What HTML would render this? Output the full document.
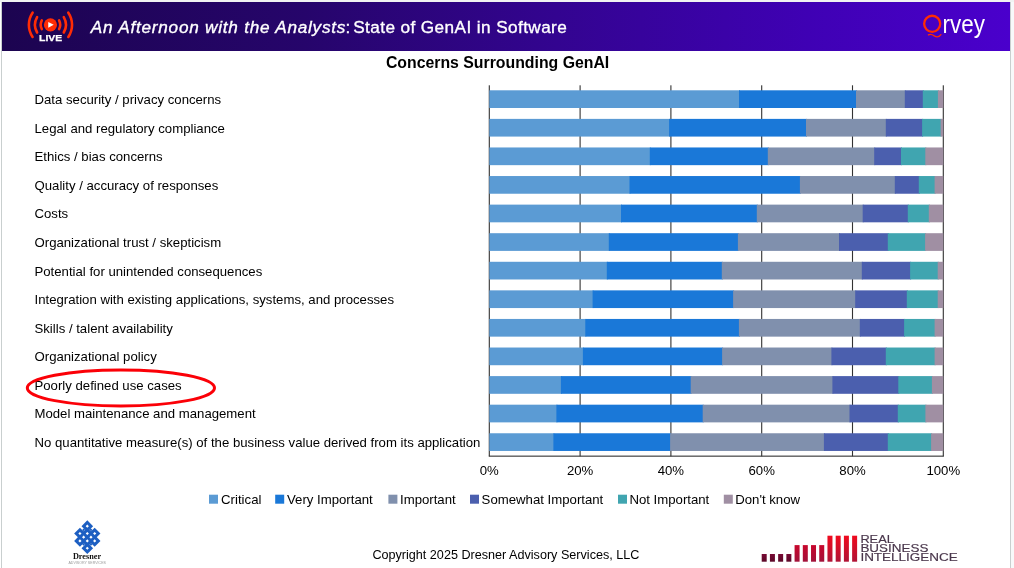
<!DOCTYPE html>
<html lang="en">
<head>
<meta charset="utf-8">
<title>Concerns Surrounding GenAI</title>
<style>
html,body{margin:0;padding:0;background:#fff;}
body{width:1014px;height:568px;overflow:hidden;position:relative;font-family:'Liberation Sans',Arial,sans-serif;}
svg{position:absolute;left:0;top:0;display:block;}
text{font-family:'Liberation Sans',Arial,sans-serif;}
</style>
</head>
<body>
<svg width="1014" height="568" viewBox="0 0 1014 568">
<defs>
<linearGradient id="hdr" x1="0" y1="0" x2="1" y2="0">
<stop offset="0" stop-color="#1c0450"/>
<stop offset="0.3" stop-color="#26056b"/>
<stop offset="0.55" stop-color="#330490"/>
<stop offset="0.8" stop-color="#3f01b4"/>
<stop offset="1" stop-color="#4a00cc"/>
</linearGradient>
<linearGradient id="rbT" x1="0" y1="0" x2="0" y2="1">
<stop offset="0" stop-color="#f00a1e"/>
<stop offset="1" stop-color="#b01436"/>
</linearGradient>
<linearGradient id="rbM" x1="0" y1="0" x2="0" y2="1">
<stop offset="0" stop-color="#c8062c"/>
<stop offset="1" stop-color="#a2123a"/>
</linearGradient>
<linearGradient id="rbS" x1="0" y1="0" x2="0" y2="1">
<stop offset="0" stop-color="#780a34"/>
<stop offset="1" stop-color="#5c0828"/>
</linearGradient>
</defs>

<rect x="0" y="0" width="1014" height="568" fill="#ffffff"/>
<rect x="1011" y="0" width="3" height="568" fill="#f8f9fa"/>
<rect x="0" y="0" width="1014" height="2" fill="#f1f3f2"/>
<rect x="1" y="2" width="1" height="566" fill="#c9cfcf"/>
<rect x="1010" y="2" width="1" height="566" fill="#c9cfcf"/>
<rect x="2" y="2" width="1008" height="49" fill="url(#hdr)"/>
<path d="M41.81 20.40A9.7 9.7 0 0 0 41.81 29.20M59.09 20.40A9.7 9.7 0 0 1 59.09 29.20M37.11 17.10A15.4 15.4 0 0 0 37.11 32.50M63.79 17.10A15.4 15.4 0 0 1 63.79 32.50M32.59 12.66A21.6 21.6 0 0 0 32.59 36.94M68.31 12.66A21.6 21.6 0 0 1 68.31 36.94" fill="none" stroke="#ff2c05" stroke-width="2.6" stroke-linecap="round"/>
<circle cx="50.45" cy="24.8" r="6.6" fill="#ff2c05"/>
<path d="M48.25 21.900000000000002L53.75 24.8L48.25 27.7Z" fill="#ffffff"/>
<text x="50.650000000000006" y="41.25" font-size="9.7" font-weight="700" fill="#ffffff" stroke="#ffffff" stroke-width="0.25" text-anchor="middle" textLength="23.2" lengthAdjust="spacingAndGlyphs">LIVE</text>
<text x="90.8" y="32.9" font-size="17.2" font-style="italic" fill="#ffffff" stroke="#ffffff" stroke-width="0.35" textLength="254.6" lengthAdjust="spacing">An Afternoon with the Analysts</text>
<text x="345.6" y="32.9" font-size="17.2" fill="#ffffff" stroke="#ffffff" stroke-width="0.35">:</text>
<text x="353.2" y="32.9" font-size="17.2" fill="#ffffff" stroke="#ffffff" stroke-width="0.35" textLength="213.6" lengthAdjust="spacing">State of GenAI in Software</text>
<circle cx="932.2" cy="23.8" r="8.05" fill="none" stroke="#ff2c05" stroke-width="2.3"/>
<path d="M928.4 34.9C930.5 33.6 932.5 34.6 934.3 35.9C936.4 37.3 939.2 36.9 940.9 34.6" fill="none" stroke="#ff2c05" stroke-width="1.3" stroke-linecap="round"/>
<text x="942.6" y="32.85" font-size="26" fill="#ffffff" textLength="42.4" lengthAdjust="spacingAndGlyphs">rvey</text>
<text x="497.6" y="68" font-size="15.83" font-weight="700" fill="#000000" text-anchor="middle">Concerns Surrounding GenAI</text>
<rect x="488.75" y="85.3" width="1.1" height="371" fill="#333333"/>
<rect x="579.55" y="85.3" width="1.1" height="371" fill="#333333"/>
<rect x="670.35" y="85.3" width="1.1" height="371" fill="#333333"/>
<rect x="761.15" y="85.3" width="1.1" height="371" fill="#333333"/>
<rect x="851.95" y="85.3" width="1.1" height="371" fill="#333333"/>
<rect x="942.75" y="85.3" width="1.1" height="371" fill="#333333"/>
<rect x="488.80" y="455.6" width="455.00" height="1.1" fill="#333333"/>
<rect x="489.3" y="90.30" width="250.7" height="17.7" fill="#5b9bd4"/>
<rect x="739.0" y="90.30" width="118.0" height="17.7" fill="#1a78d8"/>
<rect x="856.0" y="90.30" width="49.8" height="17.7" fill="#8090ad"/>
<rect x="904.8" y="90.30" width="19.0" height="17.7" fill="#4b5fae"/>
<rect x="922.8" y="90.30" width="16.1" height="17.7" fill="#40a5b0"/>
<rect x="937.9" y="90.30" width="5.4" height="17.7" fill="#a08fa3"/>
<text x="34.5" y="104.10" font-size="13.18" fill="#000000">Data security / privacy concerns</text>
<rect x="489.3" y="118.88" width="180.8" height="17.7" fill="#5b9bd4"/>
<rect x="669.1" y="118.88" width="137.9" height="17.7" fill="#1a78d8"/>
<rect x="806.0" y="118.88" width="80.8" height="17.7" fill="#8090ad"/>
<rect x="885.8" y="118.88" width="37.3" height="17.7" fill="#4b5fae"/>
<rect x="922.1" y="118.88" width="19.5" height="17.7" fill="#40a5b0"/>
<rect x="940.6" y="118.88" width="2.7" height="17.7" fill="#a08fa3"/>
<text x="34.5" y="132.68" font-size="13.18" fill="#000000">Legal and regulatory compliance</text>
<rect x="489.3" y="147.46" width="161.5" height="17.7" fill="#5b9bd4"/>
<rect x="649.8" y="147.46" width="119.0" height="17.7" fill="#1a78d8"/>
<rect x="767.8" y="147.46" width="107.4" height="17.7" fill="#8090ad"/>
<rect x="874.2" y="147.46" width="27.8" height="17.7" fill="#4b5fae"/>
<rect x="901.0" y="147.46" width="25.3" height="17.7" fill="#40a5b0"/>
<rect x="925.3" y="147.46" width="18.0" height="17.7" fill="#a08fa3"/>
<text x="34.5" y="161.26" font-size="13.18" fill="#000000">Ethics / bias concerns</text>
<rect x="489.3" y="176.04" width="141.2" height="17.7" fill="#5b9bd4"/>
<rect x="629.5" y="176.04" width="171.4" height="17.7" fill="#1a78d8"/>
<rect x="799.9" y="176.04" width="95.9" height="17.7" fill="#8090ad"/>
<rect x="894.8" y="176.04" width="25.0" height="17.7" fill="#4b5fae"/>
<rect x="918.8" y="176.04" width="16.8" height="17.7" fill="#40a5b0"/>
<rect x="934.6" y="176.04" width="8.7" height="17.7" fill="#a08fa3"/>
<text x="34.5" y="189.84" font-size="13.18" fill="#000000">Quality / accuracy of responses</text>
<rect x="489.3" y="204.62" width="132.7" height="17.7" fill="#5b9bd4"/>
<rect x="621.0" y="204.62" width="136.8" height="17.7" fill="#1a78d8"/>
<rect x="756.8" y="204.62" width="106.9" height="17.7" fill="#8090ad"/>
<rect x="862.7" y="204.62" width="46.1" height="17.7" fill="#4b5fae"/>
<rect x="907.8" y="204.62" width="22.0" height="17.7" fill="#40a5b0"/>
<rect x="928.8" y="204.62" width="14.5" height="17.7" fill="#a08fa3"/>
<text x="34.5" y="218.42" font-size="13.18" fill="#000000">Costs</text>
<rect x="489.3" y="233.20" width="120.5" height="17.7" fill="#5b9bd4"/>
<rect x="608.8" y="233.20" width="130.1" height="17.7" fill="#1a78d8"/>
<rect x="737.9" y="233.20" width="102.1" height="17.7" fill="#8090ad"/>
<rect x="839.0" y="233.20" width="49.8" height="17.7" fill="#4b5fae"/>
<rect x="887.8" y="233.20" width="38.3" height="17.7" fill="#40a5b0"/>
<rect x="925.1" y="233.20" width="18.2" height="17.7" fill="#a08fa3"/>
<text x="34.5" y="247.00" font-size="13.18" fill="#000000">Organizational trust / skepticism</text>
<rect x="489.3" y="261.78" width="118.5" height="17.7" fill="#5b9bd4"/>
<rect x="606.8" y="261.78" width="116.0" height="17.7" fill="#1a78d8"/>
<rect x="721.8" y="261.78" width="141.0" height="17.7" fill="#8090ad"/>
<rect x="861.8" y="261.78" width="49.3" height="17.7" fill="#4b5fae"/>
<rect x="910.1" y="261.78" width="28.6" height="17.7" fill="#40a5b0"/>
<rect x="937.7" y="261.78" width="5.6" height="17.7" fill="#a08fa3"/>
<text x="34.5" y="275.58" font-size="13.18" fill="#000000">Potential for unintended consequences</text>
<rect x="489.3" y="290.36" width="104.3" height="17.7" fill="#5b9bd4"/>
<rect x="592.6" y="290.36" width="141.5" height="17.7" fill="#1a78d8"/>
<rect x="733.1" y="290.36" width="123.1" height="17.7" fill="#8090ad"/>
<rect x="855.2" y="290.36" width="52.6" height="17.7" fill="#4b5fae"/>
<rect x="906.8" y="290.36" width="31.9" height="17.7" fill="#40a5b0"/>
<rect x="937.7" y="290.36" width="5.6" height="17.7" fill="#a08fa3"/>
<text x="34.5" y="304.16" font-size="13.18" fill="#000000">Integration with existing applications, systems, and processes</text>
<rect x="489.3" y="318.94" width="97.0" height="17.7" fill="#5b9bd4"/>
<rect x="585.3" y="318.94" width="154.6" height="17.7" fill="#1a78d8"/>
<rect x="738.9" y="318.94" width="121.9" height="17.7" fill="#8090ad"/>
<rect x="859.8" y="318.94" width="45.3" height="17.7" fill="#4b5fae"/>
<rect x="904.1" y="318.94" width="31.5" height="17.7" fill="#40a5b0"/>
<rect x="934.6" y="318.94" width="8.7" height="17.7" fill="#a08fa3"/>
<text x="34.5" y="332.74" font-size="13.18" fill="#000000">Skills / talent availability</text>
<rect x="489.3" y="347.52" width="94.6" height="17.7" fill="#5b9bd4"/>
<rect x="582.9" y="347.52" width="140.2" height="17.7" fill="#1a78d8"/>
<rect x="722.1" y="347.52" width="110.3" height="17.7" fill="#8090ad"/>
<rect x="831.4" y="347.52" width="55.4" height="17.7" fill="#4b5fae"/>
<rect x="885.8" y="347.52" width="49.8" height="17.7" fill="#40a5b0"/>
<rect x="934.6" y="347.52" width="8.7" height="17.7" fill="#a08fa3"/>
<text x="34.5" y="361.32" font-size="13.18" fill="#000000">Organizational policy</text>
<rect x="489.3" y="376.10" width="72.6" height="17.7" fill="#5b9bd4"/>
<rect x="560.9" y="376.10" width="130.8" height="17.7" fill="#1a78d8"/>
<rect x="690.7" y="376.10" width="142.7" height="17.7" fill="#8090ad"/>
<rect x="832.4" y="376.10" width="66.9" height="17.7" fill="#4b5fae"/>
<rect x="898.3" y="376.10" width="34.6" height="17.7" fill="#40a5b0"/>
<rect x="931.9" y="376.10" width="11.4" height="17.7" fill="#a08fa3"/>
<text x="34.5" y="389.90" font-size="13.18" fill="#000000">Poorly defined use cases</text>
<rect x="489.3" y="404.68" width="68.1" height="17.7" fill="#5b9bd4"/>
<rect x="556.4" y="404.68" width="147.3" height="17.7" fill="#1a78d8"/>
<rect x="702.7" y="404.68" width="147.8" height="17.7" fill="#8090ad"/>
<rect x="849.5" y="404.68" width="49.3" height="17.7" fill="#4b5fae"/>
<rect x="897.8" y="404.68" width="28.6" height="17.7" fill="#40a5b0"/>
<rect x="925.4" y="404.68" width="17.9" height="17.7" fill="#a08fa3"/>
<text x="34.5" y="418.48" font-size="13.18" fill="#000000">Model maintenance and management</text>
<rect x="489.3" y="433.26" width="65.1" height="17.7" fill="#5b9bd4"/>
<rect x="553.4" y="433.26" width="117.7" height="17.7" fill="#1a78d8"/>
<rect x="670.1" y="433.26" width="154.8" height="17.7" fill="#8090ad"/>
<rect x="823.9" y="433.26" width="64.9" height="17.7" fill="#4b5fae"/>
<rect x="887.8" y="433.26" width="44.3" height="17.7" fill="#40a5b0"/>
<rect x="931.1" y="433.26" width="12.2" height="17.7" fill="#a08fa3"/>
<text x="34.5" y="447.06" font-size="13.18" fill="#000000">No quantitative measure(s) of the business value derived from its application</text>
<text x="489.3" y="474.6" font-size="13.2" fill="#000000" text-anchor="middle">0%</text>
<text x="580.1" y="474.6" font-size="13.2" fill="#000000" text-anchor="middle">20%</text>
<text x="670.9" y="474.6" font-size="13.2" fill="#000000" text-anchor="middle">40%</text>
<text x="761.7" y="474.6" font-size="13.2" fill="#000000" text-anchor="middle">60%</text>
<text x="852.5" y="474.6" font-size="13.2" fill="#000000" text-anchor="middle">80%</text>
<text x="943.3" y="474.6" font-size="13.2" fill="#000000" text-anchor="middle">100%</text>
<rect x="209" y="494.7" width="9" height="9" fill="#5b9bd4"/>
<text x="221.1" y="503.8" font-size="13.2" fill="#000000">Critical</text>
<rect x="275.2" y="494.7" width="9" height="9" fill="#1a78d8"/>
<text x="287.0" y="503.8" font-size="13.2" fill="#000000">Very Important</text>
<rect x="388.4" y="494.7" width="9" height="9" fill="#8090ad"/>
<text x="400.0" y="503.8" font-size="13.2" fill="#000000">Important</text>
<rect x="470" y="494.7" width="9" height="9" fill="#4b5fae"/>
<text x="481.6" y="503.8" font-size="13.2" fill="#000000">Somewhat Important</text>
<rect x="618" y="494.7" width="9" height="9" fill="#40a5b0"/>
<text x="629.4" y="503.8" font-size="13.2" fill="#000000">Not Important</text>
<rect x="723.8" y="494.7" width="9" height="9" fill="#a08fa3"/>
<text x="735.2" y="503.8" font-size="13.2" fill="#000000">Don't know</text>
<ellipse cx="120.9" cy="387.9" rx="93.6" ry="18" fill="none" stroke="#fb0007" stroke-width="3"/>
<text x="372.4" y="559.2" font-size="12.62" fill="#000000">Copyright 2025 Dresner Advisory Services, LLC</text>
<path d="M87.30 520.35L93.11 526.16L87.30 531.97L81.49 526.16ZM79.94 527.71L85.75 533.52L79.94 539.33L74.13 533.52ZM87.30 527.71L93.11 533.52L87.30 539.33L81.49 533.52ZM94.66 527.71L100.47 533.52L94.66 539.33L88.85 533.52ZM83.62 531.39L89.43 537.20L83.62 543.01L77.81 537.20ZM90.98 531.39L96.79 537.20L90.98 543.01L85.17 537.20ZM79.94 535.07L85.75 540.88L79.94 546.69L74.13 540.88ZM87.30 535.07L93.11 540.88L87.30 546.69L81.49 540.88ZM94.66 535.07L100.47 540.88L94.66 546.69L88.85 540.88ZM87.30 542.43L93.11 548.24L87.30 554.05L81.49 548.24ZM83.62 528.55L84.91 529.84L83.62 531.13L82.33 529.84ZM90.98 528.55L92.27 529.84L90.98 531.13L89.69 529.84ZM83.62 543.27L84.91 544.56L83.62 545.85L82.33 544.56ZM90.98 543.27L92.27 544.56L90.98 545.85L89.69 544.56Z" fill="#1d5fc2"/>
<path d="M87.30 524.56L88.90 526.16L87.30 527.76L85.70 526.16ZM79.94 531.92L81.54 533.52L79.94 535.12L78.34 533.52ZM87.30 531.92L88.90 533.52L87.30 535.12L85.70 533.52ZM94.66 531.92L96.26 533.52L94.66 535.12L93.06 533.52ZM83.62 535.60L85.22 537.20L83.62 538.80L82.02 537.20ZM90.98 535.60L92.58 537.20L90.98 538.80L89.38 537.20ZM79.94 539.28L81.54 540.88L79.94 542.48L78.34 540.88ZM87.30 539.28L88.90 540.88L87.30 542.48L85.70 540.88ZM94.66 539.28L96.26 540.88L94.66 542.48L93.06 540.88ZM87.30 546.64L88.90 548.24L87.30 549.84L85.70 548.24Z" fill="#ffffff"/>
<text x="87.0" y="559.4" font-size="8.3" font-weight="700" fill="#111111" text-anchor="middle" style="font-family:'Liberation Serif',serif" textLength="28.2" lengthAdjust="spacingAndGlyphs">Dresner</text>
<text x="87.2" y="564.3" font-size="3.9" fill="#9a9a9a" text-anchor="middle" textLength="37.5" lengthAdjust="spacingAndGlyphs">ADVISORY SERVICES</text>
<rect x="761.70" y="554.0" width="5.0" height="7.7" fill="url(#rbS)"/>
<rect x="769.92" y="554.0" width="5.0" height="7.7" fill="url(#rbS)"/>
<rect x="778.14" y="554.0" width="5.0" height="7.7" fill="url(#rbS)"/>
<rect x="786.36" y="554.0" width="5.0" height="7.7" fill="url(#rbS)"/>
<rect x="794.58" y="545.1" width="5.0" height="16.6" fill="url(#rbM)"/>
<rect x="802.80" y="545.1" width="5.0" height="16.6" fill="url(#rbM)"/>
<rect x="811.02" y="545.1" width="5.0" height="16.6" fill="url(#rbM)"/>
<rect x="819.24" y="545.1" width="5.0" height="16.6" fill="url(#rbM)"/>
<rect x="827.46" y="535.7" width="5.0" height="26" fill="url(#rbT)"/>
<rect x="835.68" y="535.7" width="5.0" height="26" fill="url(#rbT)"/>
<rect x="843.90" y="535.7" width="5.0" height="26" fill="url(#rbT)"/>
<rect x="852.12" y="535.7" width="5.0" height="26" fill="url(#rbT)"/>
<text x="860.4" y="542.7" font-size="10.5" fill="#4a374c" stroke="#4a374c" stroke-width="0.15" textLength="33.4" lengthAdjust="spacingAndGlyphs">REAL</text>
<text x="860.4" y="551.9" font-size="10.5" fill="#4a374c" stroke="#4a374c" stroke-width="0.15" textLength="68.0" lengthAdjust="spacingAndGlyphs">BUSINESS</text>
<text x="860.4" y="561.4" font-size="10.5" fill="#4a374c" stroke="#4a374c" stroke-width="0.15" textLength="97.4" lengthAdjust="spacingAndGlyphs">INTELLIGENCE</text>
</svg>
</body>
</html>
